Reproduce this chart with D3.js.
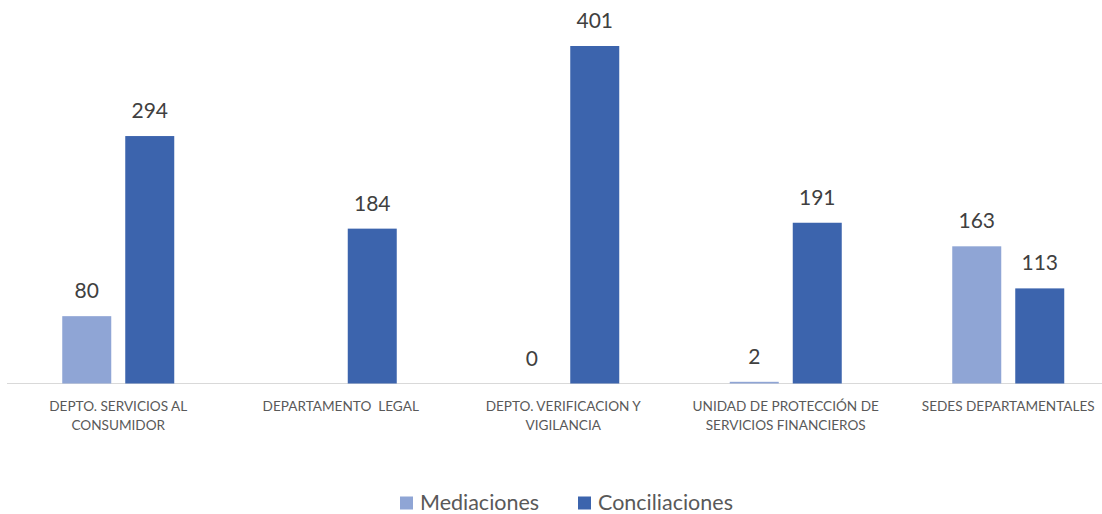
<!DOCTYPE html>
<html>
<head>
<meta charset="utf-8">
<script src="https://cdn.jsdelivr.net/npm/d3@7"></script>
<style>
  body { margin: 0; background: #fff; }
  svg { display: block; font-family: Lato, "Open Sans", sans-serif; }
</style>
</head>
<body>
<div id="chart"></div>
<script>
// data
var categories = [
  "DEPTO. SERVICIOS AL\nCONSUMIDOR",
  "DEPARTAMENTO  LEGAL",
  "DEPTO. VERIFICACION Y\nVIGILANCIA",
  "UNIDAD DE PROTECCIÓN DE\nSERVICIOS FINANCIEROS",
  "SEDES DEPARTAMENTALES"
];
var seriesNames = ["Mediaciones", "Conciliaciones"];
var mediaciones = [80, null, 0, 2, 163];
var conciliaciones = [294, 184, 401, 191, 113];
var colors = ["#8FA5D5", "#3C64AD"];

var width = 1102, height = 514;
var baseY = 383.5;

var svg = d3.select("#chart").append("svg")
    .attr("width", width)
    .attr("height", height);

// set the ranges
var x0 = d3.scaleBand().domain(categories).range([7, 7 + 5 * 222.5]);
var bw = x0.bandwidth();
var x1 = d3.scaleBand().domain(seriesNames)
    .range([bw / 2 - 56, bw / 2 + 56])
    .paddingInner(14 / 63);
var y = d3.scaleLinear().domain([0, 401]).range([baseY, 46]);

var rows = categories.map(function(c, i) {
  return { cat: c, values: [
    { key: "Mediaciones", v: mediaciones[i] },
    { key: "Conciliaciones", v: conciliaciones[i] }
  ]};
});

// axis line
svg.append("line")
    .attr("x1", 7).attr("x2", width)
    .attr("y1", baseY).attr("y2", baseY)
    .attr("stroke", "#D9D9D9").attr("stroke-width", 1.2);

var groups = svg.selectAll("g.cat")
    .data(rows)
  .enter().append("g")
    .attr("class", "cat")
    .attr("transform", function(d) { return "translate(" + x0(d.cat) + ",0)"; });

var items = groups.selectAll("g.bar")
    .data(function(d) { return d.values.filter(function(v) { return v.v !== null; }); })
  .enter().append("g");

items.append("rect")
    .attr("x", function(d) { return x1(d.key); })
    .attr("width", x1.bandwidth())
    .attr("y", function(d) { return y(d.v); })
    .attr("height", function(d) { return baseY - y(d.v); })
    .attr("fill", function(d) { return colors[seriesNames.indexOf(d.key)]; });

items.append("text")
    .attr("x", function(d) { return x1(d.key) + x1.bandwidth() / 2; })
    .attr("y", function(d) { return y(d.v) - 18; })
    .attr("text-anchor", "middle")
    .attr("fill", "#404040")
    .style("font-size", "21px")
    .text(function(d) { return d.v; });

// category labels
var labels = svg.selectAll("text.cat")
    .data(categories)
  .enter().append("text")
    .attr("class", "cat")
    .attr("text-anchor", "middle")
    .attr("fill", "#595959")
    .style("font-size", "13.6px")
    .style("white-space", "pre")
    .attr("xml:space", "preserve");

labels.each(function(d) {
  var t = d3.select(this);
  d.split("\n").forEach(function(line, i) {
    t.append("tspan")
      .attr("x", x0(d) + bw / 2)
      .attr("y", 411 + i * 19)
      .text(line);
  });
});

// legend
var legend = [
  { name: "Mediaciones", x: 400 },
  { name: "Conciliaciones", x: 578 }
];
var lg = svg.selectAll("g.legend")
    .data(legend)
  .enter().append("g")
    .attr("transform", function(d) { return "translate(" + d.x + ",0)"; });
lg.append("rect")
    .attr("x", 0).attr("y", 496.5)
    .attr("width", 13).attr("height", 13)
    .attr("fill", function(d, i) { return colors[i]; });
lg.append("text")
    .attr("x", 20).attr("y", 509.5)
    .attr("fill", "#595959")
    .style("font-size", "21.5px")
    .text(function(d) { return d.name; });
</script>
</body>
</html>
